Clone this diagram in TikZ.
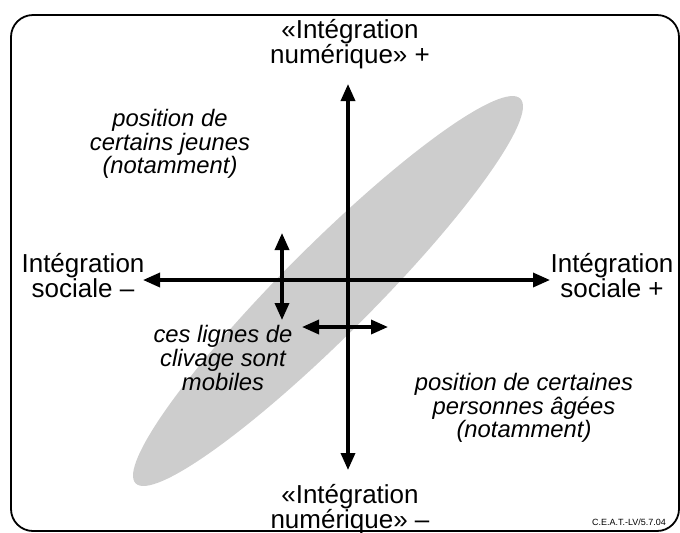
\documentclass[tikz,border=0pt]{standalone}
\usepackage{fontspec}
\setmainfont{Liberation Sans}
\usetikzlibrary{arrows.meta,positioning}
\definecolor{ink}{HTML}{000000}
\definecolor{blobgray}{HTML}{CDCDCD}
\tikzset{
  axislabel/.style={align=center, inner sep=0pt, font=\fontsize{13}{12.5}\selectfont},
  notetext/.style={align=center, inner sep=0pt, font=\fontsize{11.9}{11.8}\selectfont\itshape},
  twoway/.style={draw=ink, line width=1.7pt,
    {Triangle[length=8.5pt,width=7pt]}-{Triangle[length=8.5pt,width=7pt]}},
  stamp/.style={inner sep=0pt, font=\fontsize{4.5}{5}\selectfont}
}

\begin{document}
\begin{tikzpicture}[x=0.5pt,y=-0.5pt]
  \useasboundingbox (0,0) rectangle (680,532);
  \draw[ink,line width=0.9pt,rounded corners=11pt] (11,15) rectangle (679,531);

  % zone occupied by the population
  \fill[blobgray] (328,291) ellipse [x radius=272, y radius=45, rotate=45];

  % axes
  \coordinate (numtop) at (348,84);
  \coordinate (numbot) at (348,470);
  \coordinate (socleft) at (143,280);
  \coordinate (socright) at (550,280);
  \draw[twoway] (numbot) -- (numtop);
  \draw[twoway] (socleft) -- (socright);

  % mobile cleavage lines
  \coordinate (cliv1a) at (282,233);
  \coordinate (cliv1b) at (282,320);
  \coordinate (cliv2a) at (302,327);
  \coordinate (cliv2b) at (388,327);
  \draw[twoway] (cliv1a) -- (cliv1b);
  \draw[twoway] (cliv2a) -- (cliv2b);

  \node[axislabel] (numplus) at (350,44) {«Intégration\\numérique» +};
  \node[axislabel] (numminus) at (350,509) {«Intégration\\numérique» –};
  \node[axislabel] (socminus) at (83,276) {Intégration\\sociale –};
  \node[axislabel] (socplus) at (612,276) {Intégration\\sociale +};

  \node[notetext] (jeunes) at (170,144) {position de\\certains jeunes\\(notamment)};
  \node[notetext] (mobiles) at (223,358) {ces lignes de\\clivage sont\\mobiles};
  \node[notetext] (ages) at (524,408) {position de certaines\\personnes âgées\\(notamment)};

  \node[stamp] (ceat) at (629,522) {C.E.A.T.-LV/5.7.04};
\end{tikzpicture}
\end{document}
